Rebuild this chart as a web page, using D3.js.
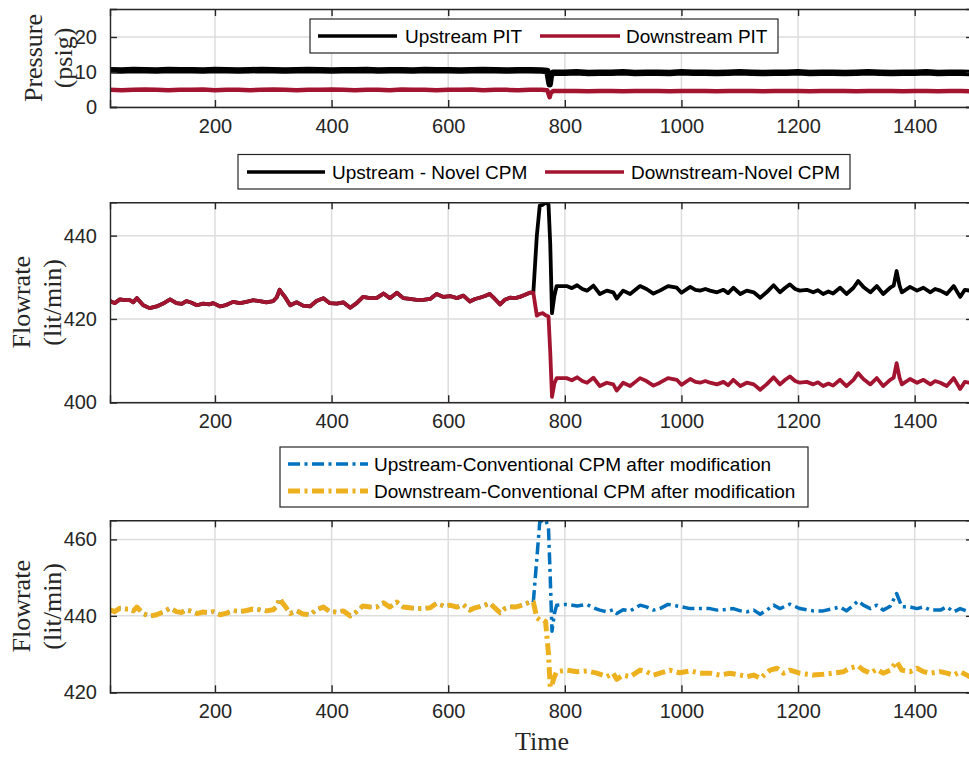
<!DOCTYPE html>
<html>
<head>
<meta charset="utf-8">
<script src="https://cdn.jsdelivr.net/npm/d3@7"></script>
<style>
  html, body { margin: 0; padding: 0; background: #ffffff; }
  svg { display: block; }
</style>
</head>
<body>
<svg id="chart" width="969" height="757"></svg>
<script>
// ---------------- DATA ----------------
const xTicks = [200, 400, 600, 800, 1000, 1200, 1400];
const pressureTicks = [0, 10, 20];
const novelTicks = [400, 420, 440];
const convTicks = [420, 440, 460];

const pitLabels = ["Upstream PIT", "Downstream PIT"];
const novelLabels = ["Upstream - Novel CPM", "Downstream-Novel CPM"];
const convLabels = ["Upstream-Conventional CPM after modification", "Downstream-Conventional CPM after modification"];

// Panel 1: pressure (psig)
const pitTime = [20,40,60,80,100,120,140,160,180,200,220,240,260,280,300,320,340,360,380,400,
  420,440,460,480,500,520,540,560,580,600,620,640,660,680,700,720,740,760,770,774,776,780,
  800,820,840,860,880,900,920,940,960,980,1000,1020,1040,1060,1080,1100,1120,1140,1160,1180,
  1200,1220,1240,1260,1280,1300,1320,1340,1360,1380,1400,1420,1440,1460,1480,1500];
const upstreamPIT = [10.5,10.4,10.6,10.5,10.4,10.6,10.5,10.5,10.4,10.6,10.5,10.4,10.5,10.6,10.5,10.4,10.5,10.6,10.5,10.4,
  10.5,10.5,10.6,10.4,10.5,10.5,10.4,10.6,10.5,10.5,10.4,10.5,10.6,10.5,10.4,10.5,10.5,10.4,10.3,6.5,9.0,9.8,
  9.8,9.9,9.7,9.8,9.8,9.9,9.7,9.8,9.8,9.7,9.9,9.8,9.8,9.7,9.8,9.9,9.8,9.7,9.8,9.8,
  9.9,9.7,9.8,9.8,9.7,9.8,9.9,9.8,9.7,9.8,9.8,9.9,9.7,9.8,9.8,9.7];
const downstreamPIT = [4.9,4.8,4.9,5.0,4.9,4.8,4.9,4.9,5.0,4.8,4.9,4.9,4.8,4.9,5.0,4.9,4.8,4.9,4.9,5.0,
  4.9,4.8,4.9,4.9,4.8,5.0,4.9,4.9,4.8,4.9,4.9,5.0,4.8,4.9,4.9,4.8,4.9,4.9,4.8,2.8,4.0,4.55,
  4.55,4.6,4.5,4.55,4.6,4.5,4.55,4.55,4.6,4.5,4.55,4.6,4.55,4.5,4.55,4.6,4.55,4.5,4.55,4.6,
  4.55,4.5,4.55,4.6,4.55,4.5,4.55,4.6,4.55,4.5,4.55,4.6,4.5,4.55,4.55,4.5];

// Panel 2: novel CPM flowrate (lit/min)
const preTime = [20,28,37,46,54,60,66,77,88,100,111,123,134,143,151,160,169,180,190,197,209,220,231,243,254,265,277,288,300,306,
  311,316,320,329,340,351,363,374,386,397,409,420,432,443,454,466,477,489,500,512,523,534,546,557,569,580,592,603,615,626,
  637,646,654,663,671,680,689,697,706,715,723,732,740,746];
const preNovel = [424.3,423.8,424.7,424.5,424.5,424.0,425.0,423.3,422.6,423.0,423.7,424.7,423.8,423.6,424.3,423.9,423.3,423.7,423.5,423.8,
  423.0,423.4,424.1,423.8,424.1,424.5,424.3,424.0,424.3,425.2,427.0,426.0,425.3,423.3,424.0,423.2,423.0,424.3,425.0,423.8,
  423.7,424.0,422.7,423.8,425.3,425.0,425.0,426.1,425.0,426.3,425.0,424.8,424.6,424.6,424.8,426.0,425.3,425.5,425.0,425.6,
  424.2,424.8,425.1,425.5,426.0,424.8,423.5,424.6,425.1,425.0,425.3,425.8,426.3,426.3];
const postTime = [752,757,762,767,772,775,778,782,786,803,812,821,830,838,849,860,872,883,889,900,912,921,929,940,952,963,977,992,
  1000,1015,1024,1032,1041,1049,1061,1072,1080,1089,1101,1112,1124,1135,1146,1158,1169,1178,1186,1195,1203,1215,1226,1234,
  1243,1252,1260,1272,1283,1295,1303,1312,1324,1335,1346,1358,1364,1369,1374,1378,1392,1404,1415,1427,1435,1444,1455,1467,
  1478,1486,1494,1500];
const postUpNovel = [440.0,447.2,447.4,447.9,447.5,438.0,421.4,425.5,427.9,427.9,427.4,428.1,427.2,426.8,428.0,426.0,426.8,426.4,424.9,426.8,
  426.0,427.0,427.9,427.2,426.1,426.8,427.9,427.5,426.3,427.7,427.0,426.8,427.2,426.8,426.4,427.0,426.2,427.5,426.0,426.8,
  426.4,425.1,426.4,428.1,426.4,427.5,428.3,427.2,426.8,427.0,426.4,426.9,426.0,426.6,426.1,427.5,426.0,427.5,429.1,427.7,
  426.4,427.9,426.0,427.5,428.0,431.5,428.0,426.4,427.7,426.8,427.5,426.4,427.2,426.8,426.0,427.9,425.3,427.0,426.8,426.0];
const postDownNovel = [420.8,421.2,421.4,420.9,420.6,412.0,401.3,404.5,405.8,405.8,405.3,406.0,405.1,404.7,405.9,403.9,404.7,404.3,402.8,404.7,
  403.9,404.9,405.8,405.1,404.0,404.7,405.8,405.4,404.2,405.6,404.9,404.7,405.1,404.7,404.3,404.9,404.1,405.4,403.9,404.7,
  404.3,403.0,404.3,406.0,404.3,405.4,406.2,405.1,404.7,404.9,404.3,404.8,403.9,404.5,404.0,405.4,403.9,405.4,407.0,405.6,
  404.3,405.8,403.9,405.4,405.9,409.4,405.9,404.3,405.6,404.7,405.4,404.3,405.1,404.7,403.9,405.8,403.2,404.9,404.7,403.9];

// Panel 3: conventional CPM after modification (lit/min)
const preConv = [441.6,441.1,442.0,441.8,441.8,441.3,442.3,440.6,439.9,440.3,441.0,442.0,441.1,440.9,441.6,441.2,440.6,441.0,440.8,441.1,
  440.3,440.7,441.4,441.1,441.4,441.8,441.6,441.3,441.6,442.5,444.6,443.3,442.6,440.6,441.3,440.5,440.3,441.6,442.3,441.1,
  441.0,441.3,440.0,441.1,442.6,442.3,442.3,443.4,442.3,443.6,442.3,442.1,441.9,441.9,442.1,443.3,442.6,442.8,442.3,442.9,
  441.5,442.1,442.4,442.8,443.3,442.1,440.8,441.9,442.4,442.3,442.6,443.1,443.6,443.6];
const postUpConvTime = [752,757,762,767,772,775,778,782,786,803,821,838,849,860,872,883,889,900,912,929,940,952,963,977,992,1000,
  1015,1032,1049,1061,1072,1089,1101,1112,1124,1135,1146,1158,1169,1186,1203,1226,1243,1260,1272,1283,1295,1303,1312,1324,
  1335,1346,1358,1369,1378,1392,1404,1415,1427,1444,1455,1467,1478,1494,1500];
const postUpConv = [455.0,464.5,465.0,465.2,463.0,450.0,436.0,440.5,442.8,443.0,442.6,443.0,442.1,441.5,441.05,441.6,440.6,441.6,441.3,442.8,
  442.35,441.5,441.9,443.0,442.6,442.35,441.9,441.9,441.9,441.5,441.6,441.9,441.3,441.05,441.5,440.4,441.5,442.8,441.9,443.05,
  441.9,441.3,441.3,441.9,442.35,441.3,442.8,443.9,442.8,441.9,442.8,441.5,442.5,445.85,442.35,442.35,441.9,442.35,441.5,441.5,
  442.35,441.05,441.9,441.05,441.5];
const postDownConvTime = [752,757,762,767,772,775,778,782,786,803,821,838,855,872,883,889,900,912,929,940,952,963,980,997,1015,1032,
  1049,1066,1083,1101,1112,1124,1135,1152,1164,1175,1186,1203,1226,1243,1260,1278,1289,1303,1312,1324,1335,1346,1358,1369,
  1378,1392,1404,1415,1427,1444,1455,1467,1478,1494,1500];
const postDownConv = [439.5,438.9,439.0,438.5,430.0,421.3,422.0,424.0,425.4,425.8,425.4,425.6,425.0,424.1,425.0,423.4,424.5,424.1,425.8,425.4,
  424.5,425.0,425.8,425.1,425.6,425.0,425.0,424.5,425.0,424.5,424.1,424.5,423.65,425.8,426.3,425.0,425.8,425.0,424.5,424.7,
  425.0,425.4,426.3,426.9,425.8,425.0,426.0,425.0,425.8,428.0,425.8,425.4,426.3,425.4,425.0,425.4,425.0,424.5,425.4,424.1,424.6];

// -------------- BUILD SERIES --------------
const zip = (ts, vs) => ts.map((t, i) => ({t: t, v: vs[i]}));
const novelTime = preTime.concat(postTime);
const seriesUpPIT = zip(pitTime, upstreamPIT);
const seriesDownPIT = zip(pitTime, downstreamPIT);
const seriesUpNovel = zip(novelTime, preNovel.concat(postUpNovel));
const seriesDownNovel = zip(novelTime, preNovel.concat(postDownNovel));
const seriesUpConv = zip(preTime.concat(postUpConvTime), preConv.concat(postUpConv));
const seriesDownConv = zip(preTime.concat(postDownConvTime), preConv.concat(postDownConv));

// -------------- LAYOUT --------------
const svg = d3.select("#chart");
const X0 = 110, X1 = 973;
const x = d3.scaleLinear().domain([20, 1500]).range([X0, X1]);

const AX = "#262626", GRID = "#dddddd";
const SANS = "'Liberation Sans', Arial, Helvetica, sans-serif";
const SERIF = "'Liberation Serif', 'Times New Roman', Times, serif";

const COLORS = { black: "#000000", red: "#A2142F", blue: "#0072BD", yellow: "#EDB120" };

function panel(cfg) {
  const y = d3.scaleLinear().domain(cfg.domain).range([cfg.bottom, cfg.top]);
  const g = svg.append("g");
  const clipId = "clip" + cfg.id;
  svg.append("clipPath").attr("id", clipId)
    .append("rect").attr("x", X0).attr("y", cfg.top).attr("width", X1 - X0).attr("height", cfg.bottom - cfg.top);

  // grid
  g.append("g").selectAll("line").data(xTicks).join("line")
    .attr("x1", d => x(d)).attr("x2", d => x(d)).attr("y1", cfg.top).attr("y2", cfg.bottom)
    .attr("stroke", GRID).attr("stroke-width", 1.5);
  g.append("g").selectAll("line").data(cfg.ticks).join("line")
    .attr("x1", X0).attr("x2", X1).attr("y1", d => y(d)).attr("y2", d => y(d))
    .attr("stroke", GRID).attr("stroke-width", 1.5);

  // series
  const line = d3.line().x(d => x(d.t)).y(d => y(d.v));
  const lg = g.append("g").attr("clip-path", `url(#${clipId})`);
  cfg.series.forEach(s => {
    lg.append("path").datum(s.data).attr("d", line)
      .attr("fill", "none").attr("stroke", s.color).attr("stroke-width", s.width)
      .attr("stroke-linejoin", "round").attr("stroke-linecap", s.dash ? "butt" : "round")
      .attr("stroke-dasharray", s.dash || null);
  });

  // axes via d3 axis (ticks inside)
  const axB = d3.axisBottom(x).tickValues(xTicks).tickSize(-7).tickPadding(12).tickFormat(d3.format("d"));
  const axT = d3.axisTop(x).tickValues(xTicks).tickSize(-7).tickFormat("");
  const axL = d3.axisLeft(y).tickValues(cfg.ticks).tickSize(-7).tickPadding(13).tickFormat(d3.format("d"));
  const axR = d3.axisRight(y).tickValues(cfg.ticks).tickSize(-7).tickFormat("");
  const styleAxis = sel => {
    sel.select(".domain").attr("stroke", AX).attr("stroke-width", 1.4);
    sel.selectAll(".tick line").attr("stroke", AX).attr("stroke-width", 1.4);
    sel.selectAll(".tick text").attr("fill", AX).style("font-family", SANS).style("font-size", "20px");
  };
  g.append("g").attr("transform", `translate(0,${cfg.bottom})`).call(axB).call(styleAxis);
  g.append("g").attr("transform", `translate(0,${cfg.top})`).call(axT).call(styleAxis);
  g.append("g").attr("transform", `translate(${X0},0)`).call(axL).call(styleAxis);
  g.append("g").attr("transform", `translate(${X1},0)`).call(axR).call(styleAxis);

  // y label
  const cy = (cfg.top + cfg.bottom) / 2;
  cfg.ylabel.forEach((txt, i) => {
    g.append("text").attr("transform", `translate(${cfg.ylabelX[i]},${cy}) rotate(-90)`)
      .attr("text-anchor", "middle").style("font-family", SERIF).style("font-size", "26px")
      .attr("fill", AX).text(txt);
  });
  return y;
}

function legend(cfg) {
  const g = svg.append("g");
  g.append("rect").attr("x", cfg.x).attr("y", cfg.y).attr("width", cfg.w).attr("height", cfg.h)
    .attr("fill", "#ffffff").attr("stroke", AX).attr("stroke-width", 1.2);
  cfg.items.forEach(it => {
    g.append("line").attr("x1", it.lx1).attr("x2", it.lx2).attr("y1", it.ly).attr("y2", it.ly)
      .attr("stroke", it.color).attr("stroke-width", it.width).attr("stroke-dasharray", it.dash || null);
    g.append("text").attr("x", it.tx).attr("y", it.ly).attr("dy", "0.35em")
      .style("font-family", SANS).style("font-size", "19px").attr("fill", "#000").text(it.label);
  });
}

// Panel 1
panel({
  id: 1, top: 9, bottom: 107, domain: [0, 28], ticks: pressureTicks,
  ylabel: ["Pressure", "(psig)"], ylabelX: [42, 72],
  series: [
    { data: seriesUpPIT, color: COLORS.black, width: 6.5 },
    { data: seriesDownPIT, color: COLORS.red, width: 4.5 }
  ]
});
legend({ x: 310, y: 19, w: 468, h: 34, items: [
  { label: pitLabels[0], color: COLORS.black, width: 3.5, lx1: 318, lx2: 397, ly: 36, tx: 405 },
  { label: pitLabels[1], color: COLORS.red, width: 3.5, lx1: 540, lx2: 620, ly: 36, tx: 626 }
]});

// Panel 2
panel({
  id: 2, top: 202.3, bottom: 402.3, domain: [400, 448], ticks: novelTicks,
  ylabel: ["Flowrate", "(lit/min)"], ylabelX: [30, 61],
  series: [
    { data: seriesUpNovel, color: COLORS.black, width: 3.8 },
    { data: seriesDownNovel, color: COLORS.red, width: 3.8 }
  ]
});
legend({ x: 238, y: 154.5, w: 612, h: 34.5, items: [
  { label: novelLabels[0], color: COLORS.black, width: 3.5, lx1: 247, lx2: 325, ly: 172, tx: 332 },
  { label: novelLabels[1], color: COLORS.red, width: 3.5, lx1: 545, lx2: 624, ly: 172, tx: 631 }
]});

// Panel 3
panel({
  id: 3, top: 520.3, bottom: 692.3, domain: [420, 465], ticks: convTicks,
  ylabel: ["Flowrate", "(lit/min)"], ylabelX: [30, 61],
  series: [
    { data: seriesUpConv, color: COLORS.blue, width: 3.5, dash: "12,4.5,3,4.5" },
    { data: seriesDownConv, color: COLORS.yellow, width: 5, dash: "12,4.5,3,4.5" }
  ]
});
legend({ x: 280, y: 447, w: 528, h: 60, items: [
  { label: convLabels[0], color: COLORS.blue, width: 3.5, dash: "12,4.5,3,4.5", lx1: 288, lx2: 368, ly: 464, tx: 374 },
  { label: convLabels[1], color: COLORS.yellow, width: 5, dash: "12,4.5,3,4.5", lx1: 288, lx2: 368, ly: 491, tx: 374 }
]});

// x label
svg.append("text").attr("x", 542).attr("y", 750).attr("text-anchor", "middle")
  .style("font-family", SERIF).style("font-size", "26px").attr("fill", AX).text("Time");
</script>
</body>
</html>
